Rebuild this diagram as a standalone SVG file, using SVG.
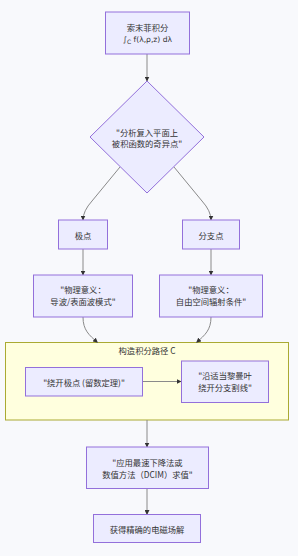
<svg xmlns="http://www.w3.org/2000/svg" width="298" height="556" viewBox="0 0 298 556">
<style>
.bg{fill:#f8f9fc}
.node{fill:#ECECFF;stroke:#9370DB;stroke-width:1}
.cluster{fill:#ffffde;stroke:#aaaa33;stroke-width:1}
text{font-family:"Noto Sans CJK SC","Liberation Sans",sans-serif;font-size:8.3px;fill:#333;text-anchor:middle;dominant-baseline:central}
text.lat{font-family:"DejaVu Sans","Liberation Sans",sans-serif;font-size:7.6px}
.edge{fill:none;stroke:#8a8a8a;stroke-width:1}
</style>
<defs>
<marker id="arr" viewBox="0 0 10 10" refX="9" refY="5" markerWidth="5" markerHeight="5" markerUnits="userSpaceOnUse" orient="auto">
<path d="M0,0 L10,5 L0,10 z" fill="#333"/>
</marker>
</defs>
<rect class="bg" x="0" y="0" width="298" height="556"/>
<g id="cluster-path">
<rect class="cluster" x="5.5" y="342.5" width="283" height="77.5"/>
<text x="147" y="349.5">构造积分路径 C</text>
</g>
<g id="connectors">
<path class="edge" d="M147,54 L147,81" marker-end="url(#arr)"/>
<path class="edge" d="M120,167 L92,201 Q83,211 83,220" marker-end="url(#arr)"/>
<path class="edge" d="M174,167 L202,201 Q211,211 211,220" marker-end="url(#arr)"/>
<path class="edge" d="M83,249 L83,275" marker-end="url(#arr)"/>
<path class="edge" d="M211,249 L211,275" marker-end="url(#arr)"/>
<path class="edge" d="M83,317 C83,330 89,335 97.5,342.5" marker-end="url(#arr)"/>
<path class="edge" d="M211,317 C211,330 205,335 196.5,342.5" marker-end="url(#arr)"/>
<path class="edge" d="M143,381.5 L181,381.5" marker-end="url(#arr)"/>
<path class="edge" d="M147,420 L147,447" marker-end="url(#arr)"/>
<path class="edge" d="M147,488 L147,514.5" marker-end="url(#arr)"/>
</g>
<g id="node-sommerfeld">
<rect class="node" x="105.5" y="12" width="84" height="42"/>
<text x="147.5" y="27">索末菲积分</text>
<text class="lat" x="147.5" y="39">∫<tspan font-size="6px" dy="2">C</tspan><tspan dy="-2"> f(λ,ρ,z) dλ</tspan></text>
</g>
<g id="node-analyze">
<polygon class="node" points="147,81 204,137 147,193 90,137"/>
<text x="147" y="131.5">"分析复入平面上</text>
<text x="147" y="143.2">被积函数的奇异点"</text>
</g>
<g id="node-pole">
<rect class="node" x="58.5" y="220" width="49" height="29"/>
<text x="83" y="234.5">极点</text>
</g>
<g id="node-branch">
<rect class="node" x="182.5" y="220" width="57" height="29"/>
<text x="211" y="234.5">分支点</text>
</g>
<g id="node-pole-meaning">
<rect class="node" x="33.5" y="275" width="99" height="42"/>
<text x="83" y="289.3">"物理意义：</text>
<text x="83" y="301">导波/表面波模式"</text>
</g>
<g id="node-branch-meaning">
<rect class="node" x="159.5" y="275" width="103" height="42"/>
<text x="211" y="289.3">"物理意义：</text>
<text x="211" y="301">自由空间辐射条件"</text>
</g>
<g id="node-avoid-pole">
<rect class="node" x="25.5" y="367.5" width="117" height="28.5"/>
<text x="84" y="381.7">"绕开极点 (留数定理)"</text>
</g>
<g id="node-riemann">
<rect class="node" x="181.5" y="361" width="87" height="41.5"/>
<text x="225" y="374.5">"沿适当黎曼叶</text>
<text x="225" y="387.3">绕开分支割线"</text>
</g>
<g id="node-numeric">
<rect class="node" x="86.5" y="447" width="122" height="41.5"/>
<text x="147.5" y="461.7">"应用最速下降法或</text>
<text x="147.5" y="473.5">数值方法（DCIM）求值"</text>
</g>
<g id="node-result">
<rect class="node" x="93.5" y="514.5" width="107" height="28"/>
<text x="147" y="529">获得精确的电磁场解</text>
</g>
</svg>
